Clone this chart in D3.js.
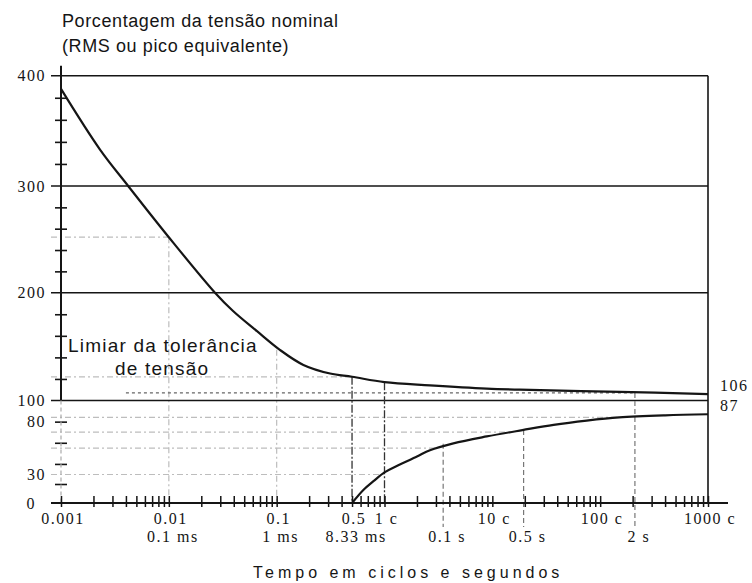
<!DOCTYPE html>
<html>
<head>
<meta charset="utf-8">
<script src="https://cdn.jsdelivr.net/npm/d3@7"></script>
<style>
  html, body { margin: 0; padding: 0; background: #fff; }
  svg { display: block; }
</style>
</head>
<body>
<svg id="chart" width="752" height="583"></svg>
<script>
// Voltage tolerance envelope: percent of nominal voltage against event duration (cycles)

// Upper threshold curve: [duration in cycles, percent]
const upperCurve = [
  [0.001, 388], [0.0023, 333], [0.0042, 300], [0.01, 252], [0.0268, 200],
  [0.0394, 183], [0.0653, 164.5], [0.107, 147], [0.177, 133], [0.313, 125],
  [0.5, 122], [1, 117], [2.64, 114], [8.87, 111], [18, 110], [153, 108], [1000, 106]
];

// Lower threshold curve: [duration in cycles, percent]
const lowerCurve = [
  [0.5, 0], [0.64, 14], [0.79, 23], [1, 32], [1.3, 38], [2, 47], [2.64, 53],
  [4.35, 59.5], [8.87, 66], [19, 72], [37, 77], [75, 81], [150, 84], [400, 86], [1000, 87]
];

// Vertical axis
const yLabelValues = [0, 30, 80, 100, 200, 300, 400];
const yMinorTicks = [20, 40, 60, 80, 120, 140, 160, 180, 220, 240, 260, 280, 320, 340, 360, 380];
const solidLevels = [100, 200, 300, 400];

// Horizontal axis labels (cycles row and time row)
const cycleLabelValues = [0.001, 0.01, 0.1, 0.5, 1, 10, 100, 1000];
const cycleLabelTexts = ["0.001", "0.01", "0.1", "0.5", "1 c", "10 c", "100 c", "1000 c"];
const timeLabelValues = [0.01, 0.1, 0.5, 3.5, 19.5, 210];
const timeLabelTexts = ["0.1 ms", "1 ms", "8.33 ms", "0.1 s", "0.5 s", "2 s"];

// Light background reference levels: [percent, right end in cycles]
const faintLevels = [[252, 0.01], [122, 0.5], [84, 150], [70, 15], [55, 3], [30, 1]];
// Dotted level just under the upper curve: [percent, left end, right end]
const dottedLevel = [107, 0.004, 200];
// Light verticals from a level down to 0: [cycles, percent]
const faintVerticals = [[0.01, 252], [0.1, 147]];
// Dark dashed verticals under the upper curve: [cycles, percent]
const darkVerticals = [[0.5, 122], [1, 117]];
// Time markers reaching below the axis: [cycles, percent]
const timeMarkers = [[3.5, 59], [19.5, 72], [210, 107]];

// End-of-curve values shown on the right
const endLabels = [[106, "106"], [87, "87"]];

const svg = d3.select("#chart");

const x = d3.scaleLog().domain([0.001, 1000]).range([61, 708]);
const y = d3.scaleLinear()
  .domain([0, 30, 100, 200, 300, 400])
  .range([503, 474.5, 400.5, 292.7, 186, 75.7]);

const ink = "#151515";
const serif = "'Liberation Serif', 'Times New Roman', serif";
const sans = "'Liberation Sans', Arial, sans-serif";
const leftX = x(0.001) - 10;

// Light reference grid
const faint = svg.append("g").attr("stroke", "#bdbdbd").attr("stroke-width", 1.2)
  .attr("stroke-dasharray", "6,3,2,3").attr("fill", "none");
faint.selectAll("line.h").data(faintLevels).join("line")
  .attr("x1", leftX).attr("x2", d => x(d[1]))
  .attr("y1", d => y(d[0])).attr("y2", d => y(d[0]));
faint.selectAll("line.v").data(faintVerticals).join("line")
  .attr("x1", d => x(d[0])).attr("x2", d => x(d[0]))
  .attr("y1", d => y(d[1])).attr("y2", y(0));

svg.append("line")
  .attr("x1", x(dottedLevel[1])).attr("x2", x(dottedLevel[2]))
  .attr("y1", y(dottedLevel[0])).attr("y2", y(dottedLevel[0]))
  .attr("stroke", "#666").attr("stroke-width", 1.3).attr("stroke-dasharray", "3,3");

// Solid horizontal levels
svg.append("g").selectAll("line").data(solidLevels).join("line")
  .attr("x1", leftX).attr("x2", x(1000))
  .attr("y1", d => y(d)).attr("y2", d => y(d))
  .attr("stroke", ink).attr("stroke-width", 1.6);

// Right border
svg.append("line")
  .attr("x1", x(1000)).attr("x2", x(1000))
  .attr("y1", y(400)).attr("y2", y(0))
  .attr("stroke", ink).attr("stroke-width", 1.6);

// Dashed verticals
svg.append("g").selectAll("line").data(darkVerticals).join("line")
  .attr("x1", d => x(d[0])).attr("x2", d => x(d[0]))
  .attr("y1", d => y(d[1])).attr("y2", y(0))
  .attr("stroke", "#333").attr("stroke-width", 1.3).attr("stroke-dasharray", "8,2,2,2");

svg.append("g").selectAll("line").data(timeMarkers).join("line")
  .attr("x1", d => x(d[0])).attr("x2", d => x(d[0]))
  .attr("y1", d => y(d[1])).attr("y2", y(0) + 24)
  .attr("stroke", "#777").attr("stroke-width", 1.2).attr("stroke-dasharray", "5,3");

// Left axis
const yAxis = svg.append("g")
  .attr("transform", `translate(${x(0.001)},0)`)
  .call(d3.axisLeft(y).tickValues(yMinorTicks).tickSize(6).tickFormat(""));
yAxis.select(".domain").remove();
yAxis.selectAll(".tick line").attr("x1", -6).attr("x2", 6)
  .attr("stroke", ink).attr("stroke-width", 1.6);

svg.append("line")
  .attr("x1", x(0.001)).attr("x2", x(0.001))
  .attr("y1", y(400) - 10).attr("y2", y(100))
  .attr("stroke", ink).attr("stroke-width", 2);
svg.append("line")
  .attr("x1", x(0.001)).attr("x2", x(0.001))
  .attr("y1", y(100)).attr("y2", y(0))
  .attr("stroke", "#aaa").attr("stroke-width", 1.2).attr("stroke-dasharray", "4,3");

svg.append("g").selectAll("text").data(yLabelValues).join("text")
  .attr("x", d => d === 0 ? 36 : 46)
  .attr("y", d => y(d) + 5.5)
  .attr("text-anchor", "end")
  .attr("font-family", serif).attr("font-size", 16)
  .attr("letter-spacing", 1.5)
  .attr("fill", ink)
  .text(d => d);

// Bottom axis (log scale, crossing ticks)
const xAxis = svg.append("g")
  .attr("transform", `translate(0,${y(0)})`)
  .call(d3.axisBottom(x).tickValues(x.ticks()).tickSize(4).tickFormat(""));
xAxis.select(".domain").remove();
xAxis.selectAll(".tick line").attr("y1", -7).attr("y2", 4)
  .attr("stroke", ink).attr("stroke-width", 1.5);

svg.append("line")
  .attr("x1", leftX).attr("x2", x(1000) + 20)
  .attr("y1", y(0)).attr("y2", y(0))
  .attr("stroke", ink).attr("stroke-width", 1.8);

svg.append("g").selectAll("text").data(cycleLabelValues).join("text")
  .attr("x", d => x(d) + 2)
  .attr("y", 524)
  .attr("text-anchor", "middle")
  .attr("font-family", serif).attr("font-size", 16)
  .attr("letter-spacing", 1.5)
  .attr("fill", ink)
  .text((d, i) => cycleLabelTexts[i]);

svg.append("g").selectAll("text").data(timeLabelValues).join("text")
  .attr("x", d => x(d) + 4)
  .attr("y", 542)
  .attr("text-anchor", "middle")
  .attr("font-family", serif).attr("font-size", 16)
  .attr("letter-spacing", 1.5)
  .attr("fill", ink)
  .text((d, i) => timeLabelTexts[i]);

// Curves
const line = d3.line()
  .x(d => x(d[0]))
  .y(d => y(d[1]))
  .curve(d3.curveCatmullRom.alpha(0.5));

svg.append("path").datum(upperCurve)
  .attr("d", line).attr("fill", "none")
  .attr("stroke", ink).attr("stroke-width", 2.2);
svg.append("path").datum(lowerCurve)
  .attr("d", line).attr("fill", "none")
  .attr("stroke", ink).attr("stroke-width", 2.2);

// End values
svg.append("g").selectAll("text").data(endLabels).join("text")
  .attr("x", x(1000) + 12)
  .attr("y", d => y(d[0]) - 3)
  .attr("font-family", serif).attr("font-size", 16)
  .attr("letter-spacing", 1.5)
  .attr("fill", ink)
  .text(d => d[1]);

// Titles and annotation
svg.append("text")
  .attr("x", 62).attr("y", 27)
  .attr("font-family", sans).attr("font-size", 18).attr("letter-spacing", 0.6)
  .attr("fill", ink)
  .text("Porcentagem da tensão nominal");
svg.append("text")
  .attr("x", 62).attr("y", 52)
  .attr("font-family", sans).attr("font-size", 18).attr("letter-spacing", 0.6)
  .attr("fill", ink)
  .text("(RMS ou pico equivalente)");

const note = svg.append("text")
  .attr("font-family", sans).attr("font-size", 19).attr("letter-spacing", 1.2)
  .attr("fill", ink);
note.append("tspan").attr("x", 68).attr("y", 352).text("Limiar da tolerância");
note.append("tspan").attr("x", 115).attr("y", 375).text("de tensão");

svg.append("text")
  .attr("x", 253).attr("y", 578)
  .attr("font-family", sans).attr("font-size", 16).attr("letter-spacing", 4.0)
  .attr("fill", ink)
  .text("Tempo em ciclos e segundos");
</script>
</body>
</html>
